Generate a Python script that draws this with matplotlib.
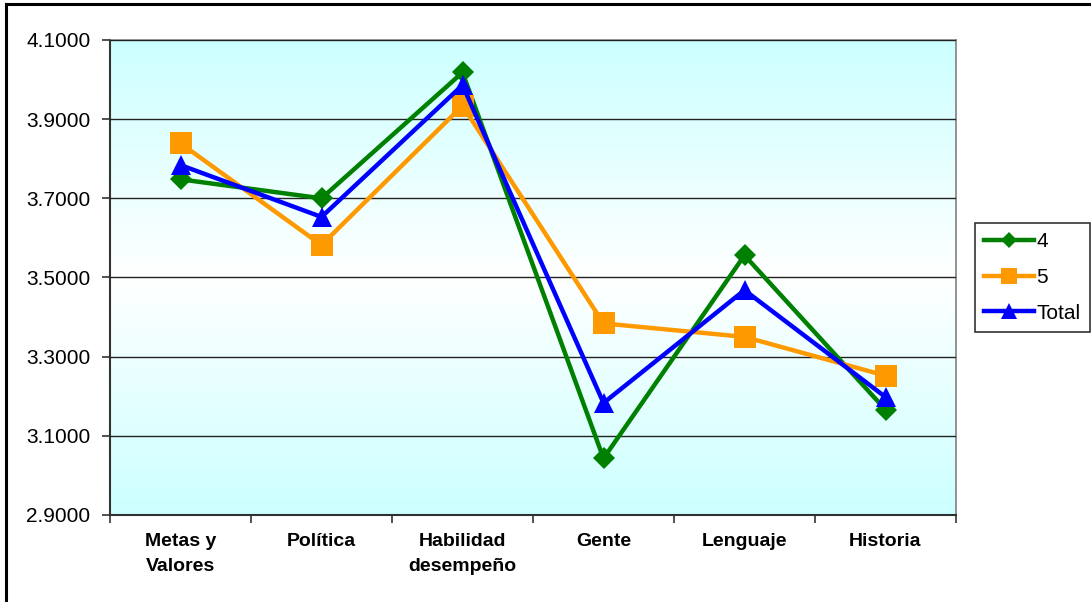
import numpy as np
import matplotlib
matplotlib.use("Agg")
import matplotlib.pyplot as plt
from matplotlib.lines import Line2D
from matplotlib.colors import LinearSegmentedColormap

plt.rcParams['font.family'] = ['Liberation Sans', 'DejaVu Sans']

categories = ["Metas y\nValores", "Política", "Habilidad\ndesempeño", "Gente", "Lenguaje", "Historia"]
series_4 = [3.748, 3.700, 4.018, 3.043, 3.556, 3.166]
series_5 = [3.839, 3.582, 3.934, 3.384, 3.350, 3.252]
series_total = [3.784, 3.653, 3.986, 3.183, 3.468, 3.198]
y_ticks = [2.9, 3.1, 3.3, 3.5, 3.7, 3.9, 4.1]

W, H = 1091, 602
fig = plt.figure(figsize=(W / 100, H / 100), dpi=100)
ax = fig.add_axes([110 / W, 1 - 515 / H, (956 - 110) / W, (515 - 40) / H])

# cyan-white-cyan vertical gradient behind the plot
cmap = LinearSegmentedColormap.from_list("bg", ["#ccffff", "#ffffff", "#ccffff"])
grad = np.linspace(0, 1, 256).reshape(-1, 1)
ax.imshow(grad, extent=[0, 1, 0, 1], transform=ax.transAxes, aspect="auto",
          cmap=cmap, zorder=0, interpolation="bicubic")

x = np.arange(len(categories))
ax.plot(x, series_4, color="#008000", lw=3.2, marker="D", ms=11, mew=0, zorder=3, label="4")
ax.plot(x, series_5, color="#ff9900", lw=3.2, marker="s", ms=16, mew=0, zorder=4, label="5")
ax.plot(x, series_total, color="#0000ff", lw=3.2, marker="^", ms=15, mew=0, zorder=5, label="Total")

ax.set_xlim(-0.5, len(categories) - 0.5)
ax.set_ylim(2.9, 4.1)
ax.set_yticks(y_ticks)
ax.set_yticklabels([f"{v:.4f}" for v in y_ticks], fontsize=15)
ax.yaxis.grid(True, color="#222222", lw=1)
ax.set_axisbelow(False)
for gl in ax.get_ygridlines():
    gl.set_zorder(1)

# category labels centred, ticks on category boundaries
ax.set_xticks(np.arange(-0.5, len(categories), 1.0))
ax.set_xticklabels([])
ax.set_xticks(x, minor=True)
ax.set_xticklabels(categories, minor=True, fontsize=14, fontweight="bold", linespacing=1.6)
ax.tick_params(axis="x", which="minor", length=0, pad=13)
ax.tick_params(axis="x", which="major", length=6, width=1.2, color="#333333", direction="out")
ax.tick_params(axis="y", length=6, width=1.2, color="#333333", direction="out", pad=8)

for side in ("left", "bottom"):
    ax.spines[side].set_color("#333333")
    ax.spines[side].set_linewidth(1.5)
for side in ("top", "right"):
    ax.spines[side].set_color("#808080")
    ax.spines[side].set_linewidth(1.2)

handles = [
    Line2D([], [], color="#008000", lw=3.2, marker="D", ms=8, mew=0),
    Line2D([], [], color="#ff9900", lw=3.2, marker="s", ms=11, mew=0),
    Line2D([], [], color="#0000ff", lw=3.2, marker="^", ms=11, mew=0),
]
leg = fig.legend(handles, ["4", "5", "Total"], loc="upper left",
                 bbox_to_anchor=(975 / W, 1 - 223 / H), fontsize=15,
                 frameon=True, fancybox=False, shadow=False,
                 handlelength=2.4, handletextpad=0.1, borderpad=0.45,
                 labelspacing=0.8, borderaxespad=0)
leg.get_frame().set_edgecolor("#000000")
leg.get_frame().set_linewidth(1.2)

# chart border (left and top edges)
fig.add_artist(Line2D([6 / W, 6 / W], [0, 1 - 4 / H], transform=fig.transFigure, color="black", lw=2.2))
fig.add_artist(Line2D([6 / W, 1], [1 - 4 / H, 1 - 4 / H], transform=fig.transFigure, color="black", lw=2.2))

fig.savefig("out.png", dpi=100)
